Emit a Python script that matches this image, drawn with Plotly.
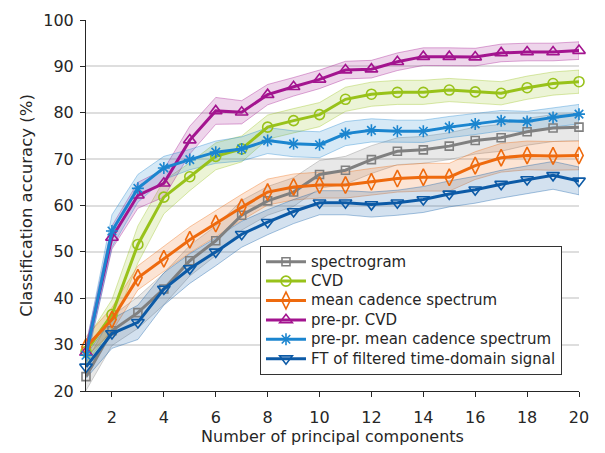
import plotly.graph_objects as go

# Number of principal components
n_pc = list(range(1, 21))

# Mean classification accuracy (%) per feature type
spectrogram = [23.1, 33.0, 36.9, 42.0, 48.1, 52.4, 57.9, 61.0, 62.9, 66.7,
               67.6, 69.9, 71.7, 72.0, 72.8, 74.0, 74.6, 75.9, 76.7, 76.9]
cvd = [28.5, 36.5, 51.6, 61.8, 66.2, 70.6, 72.2, 76.9, 78.3, 79.6,
       82.9, 84.0, 84.4, 84.4, 84.9, 84.5, 84.2, 85.4, 86.3, 86.7]
mean_cadence = [29.5, 35.4, 44.4, 48.5, 52.6, 56.1, 59.6, 62.9, 64.0, 64.4,
                64.4, 65.1, 65.8, 66.1, 66.1, 68.6, 70.3, 70.8, 70.7, 70.8]
prepr_cvd = [28.3, 53.1, 62.2, 64.8, 74.1, 80.4, 80.1, 83.9, 85.6, 87.2,
             89.2, 89.4, 91.0, 92.1, 92.1, 92.0, 92.9, 93.1, 93.1, 93.4]
prepr_mean_cadence = [27.7, 54.5, 63.7, 68.1, 69.9, 71.5, 72.2, 74.0, 73.3, 73.1,
                      75.5, 76.2, 76.0, 76.0, 76.9, 77.6, 78.3, 78.1, 79.0, 79.7]
ft_filtered = [25.2, 32.4, 34.8, 42.0, 46.4, 50.0, 53.8, 56.4, 58.7, 60.6,
               60.6, 60.2, 60.6, 61.3, 62.5, 63.4, 64.6, 65.6, 66.5, 65.3]

# Standard deviation of accuracy across folds
spectrogram_sd = [3.0, 3.2, 3.4, 3.4, 3.3, 3.2, 3.2, 3.1, 3.1, 3.0,
                  3.0, 3.0, 2.9, 2.9, 2.9, 2.9, 2.9, 2.9, 2.9, 2.9]
cvd_sd = [2.5, 3.2, 4.0, 3.6, 3.0, 2.9, 2.8, 2.6, 2.6, 2.6,
          2.6, 2.6, 2.6, 2.6, 2.5, 2.5, 2.5, 2.5, 2.5, 2.5]
mean_cadence_sd = [2.2, 2.6, 2.6, 2.7, 2.8, 2.8, 2.8, 2.8, 2.8, 2.8,
                   2.8, 2.9, 2.9, 3.0, 3.0, 3.0, 3.1, 3.1, 3.1, 3.1]
prepr_cvd_sd = [1.8, 2.5, 2.8, 3.0, 3.0, 2.9, 2.5, 2.2, 2.0, 2.0,
                1.9, 1.9, 1.9, 1.9, 1.9, 1.9, 1.9, 1.9, 1.9, 1.9]
prepr_mean_cadence_sd = [2.0, 3.5, 3.0, 2.5, 2.2, 2.4, 2.6, 2.8, 2.8, 2.8,
                         2.6, 2.5, 2.4, 2.4, 2.3, 2.3, 2.2, 2.2, 2.1, 2.1]
ft_filtered_sd = [2.5, 3.2, 3.7, 3.5, 3.2, 3.0, 2.8, 2.7, 2.6, 2.6,
                  2.6, 2.7, 2.7, 2.8, 2.8, 2.9, 3.0, 3.0, 3.0, 3.0]

series = [
    ("spectrogram", spectrogram, spectrogram_sd, (128, 128, 128), "square-open", 8),
    ("CVD", cvd, cvd_sd, (152, 194, 26), "circle-open", 10),
    ("mean cadence spectrum", mean_cadence, mean_cadence_sd, (238, 106, 14), "diamond-tall-open", 12),
    ("pre-pr. CVD", prepr_cvd, prepr_cvd_sd, (163, 20, 143), "triangle-up-open", 11),
    ("pre-pr. mean cadence spectrum", prepr_mean_cadence, prepr_mean_cadence_sd, (27, 133, 207), "asterisk-open", 10),
    ("FT of filtered time-domain signal", ft_filtered, ft_filtered_sd, (12, 90, 166), "triangle-down-open", 11),
]

fig = go.Figure()

# Shaded +/- one standard deviation bands
for name, mean, sd, rgb, sym, msz in series:
    upper = [m + s for m, s in zip(mean, sd)]
    lower = [m - s for m, s in zip(mean, sd)]
    r, g, b = rgb
    fig.add_trace(go.Scatter(
        x=n_pc + n_pc[::-1],
        y=upper + lower[::-1],
        mode="lines",
        fill="toself",
        fillcolor=f"rgba({r},{g},{b},0.18)",
        line=dict(color=f"rgba({r},{g},{b},0.45)", width=0.8),
        hoverinfo="skip",
        showlegend=False,
    ))

# Mean accuracy curves with markers
for name, mean, sd, rgb, sym, msz in series:
    r, g, b = rgb
    col = f"rgb({r},{g},{b})"
    fig.add_trace(go.Scatter(
        x=n_pc,
        y=mean,
        mode="lines+markers",
        name=f'<span style="font-size:15px">{name}</span>',
        line=dict(color=col, width=3),
        marker=dict(symbol=sym, size=msz, color=col, line=dict(color=col, width=1.6)),
        cliponaxis=False,
    ))

font_family = "DejaVu Sans"
txt = "#262626"

fig.update_layout(
    width=605,
    height=453,
    margin=dict(l=86, r=26, t=11, b=58.5),
    paper_bgcolor="white",
    plot_bgcolor="white",
    font=dict(family=font_family, size=15, color=txt),
    showlegend=True,
    legend=dict(
        x=0.9655, y=0.043, xanchor="right", yanchor="bottom",
        bgcolor="white", bordercolor="#333333", borderwidth=1,
        font=dict(family=font_family, size=12.6, color=txt),
        itemwidth=40,
        tracegroupgap=0,
    ),
    xaxis=dict(
        range=[1, 20],
        tickvals=list(range(2, 21, 2)),
        ticks="outside", ticklen=5, tickwidth=1, tickcolor=txt,
        ticklabelstandoff=7,
        showline=True, linecolor=txt, linewidth=1,
        showgrid=False, zeroline=False,
        title=dict(text="Number of principal components", standoff=4,
                   font=dict(family=font_family, size=16, color=txt)),
        tickfont=dict(family=font_family, size=16, color=txt),
    ),
    yaxis=dict(
        range=[20, 100],
        dtick=10,
        ticks="outside", ticklen=5, tickwidth=1, tickcolor=txt,
        ticklabelstandoff=3,
        showline=True, linecolor=txt, linewidth=1,
        showgrid=True, gridcolor="#dedede", gridwidth=1.5,
        zeroline=False,
        title=dict(text="Classification accuracy (%)", standoff=6,
                   font=dict(family=font_family, size=16.5, color=txt)),
        tickfont=dict(family=font_family, size=16, color=txt),
    ),
)

fig.write_html("out.html")
